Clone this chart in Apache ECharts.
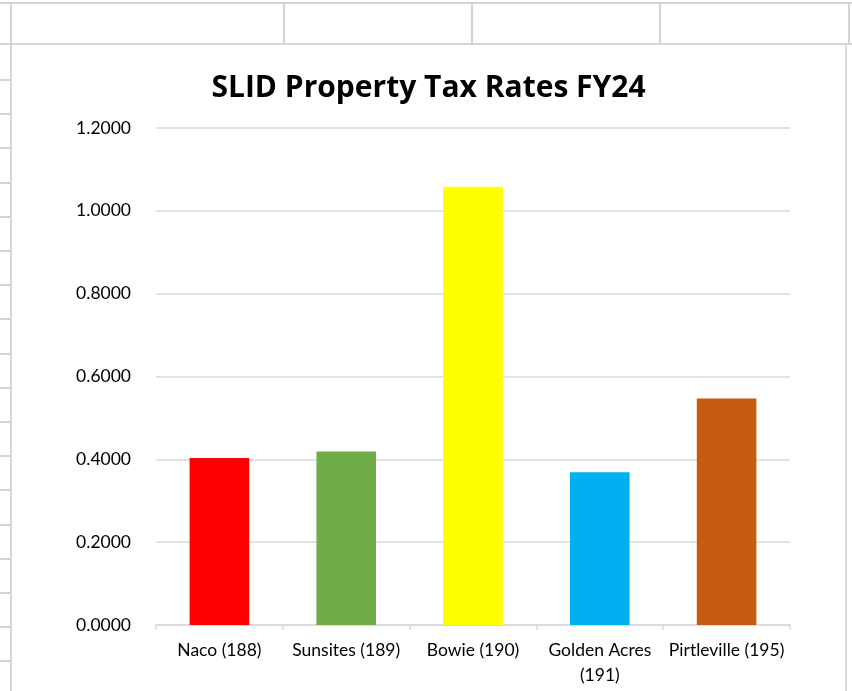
<!DOCTYPE html>
<html>
<head>
<meta charset="utf-8">
<script src="https://cdn.jsdelivr.net/npm/echarts@6/dist/echarts.min.js"></script>
<style>
  html, body { margin:0; padding:0; width:852px; height:691px; background:#fff; overflow:hidden; }
  .hl { position:absolute; height:2px; background:#d4d4d4; }
  .vl { position:absolute; width:2px; background:#d4d4d4; }
  #chart { position:absolute; left:11px; top:44px; width:836px; height:647px; border-left:1px solid #d9d9d9; border-top:1px solid #d9d9d9; border-right:2px solid #d9d9d9; box-sizing:border-box; background:#fff; }
</style>
</head>
<body>
<div id="sheet"></div>
<div id="chart"></div>
<script>
const categories = ['Naco (188)', 'Sunsites (189)', 'Bowie (190)', 'Golden Acres\n(191)', 'Pirtleville (195)'];
const rates = [0.403, 0.419, 1.058, 0.369, 0.547];
const barColors = ['#FF0000', '#70AD47', '#FFFF00', '#00B0F0', '#C55A11'];
const yTicks = [0, 0.2, 0.4, 0.6, 0.8, 1.0, 1.2];

// spreadsheet background grid (decorative)
const sheet = document.getElementById('sheet');
function addLine(cls, style) { const d = document.createElement('div'); d.className = cls; Object.assign(d.style, style); sheet.appendChild(d); }
addLine('hl', {left:'0px', top:'2px', width:'852px'});
addLine('hl', {left:'0px', top:'43px', width:'852px'});
[10, 283, 471, 659, 848].forEach(x => addLine('vl', {left:x+'px', top:'2px', height:'42px'}));
addLine('vl', {left:'10px', top:'44px', height:'647px'});
for (let y = 79; y < 691; y += 34.2) addLine('hl', {left:'0px', top:Math.round(y)+'px', width:'10px'});

const chart = echarts.init(document.getElementById('chart'), null, {renderer:'canvas'});
chart.setOption({
  animation: false,
  title: {
    text: 'SLID Property Tax Rates FY24',
    left: 'center', top: 23,
    textStyle: { fontFamily: 'Open Sans', fontWeight: 'bold', fontSize: 30, color: '#000' }
  },
  grid: { left: 144, right: 55, top: 83, bottom: 66, containLabel: false },
  xAxis: {
    type: 'category',
    data: categories,
    axisLine: { lineStyle: { color: '#d9d9d9', width: 1.5 } },
    axisTick: { show: true, length: 5, lineStyle: { color: '#d9d9d9', width: 1.5 } },
    axisLabel: { color: '#000', fontFamily: 'Lato', fontSize: 17.5, margin: 13, lineHeight: 25, interval: 0 }
  },
  yAxis: {
    type: 'value',
    min: yTicks[0], max: yTicks[yTicks.length - 1], interval: 0.2,
    axisLine: { show: false },
    axisTick: { show: false },
    splitLine: { lineStyle: { color: '#d9d9d9', width: 1.5 } },
    axisLabel: { color: '#000', fontFamily: 'Lato', fontSize: 17.5, margin: 25, formatter: v => v.toFixed(4) }
  },
  series: [{
    type: 'bar',
    data: rates.map((v, i) => ({ value: v, itemStyle: { color: barColors[i] } })),
    barWidth: '47%'
  }]
});
</script>
</body>
</html>
